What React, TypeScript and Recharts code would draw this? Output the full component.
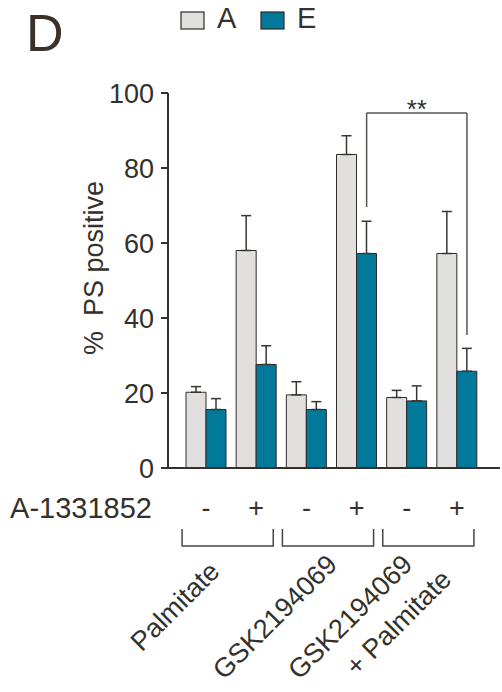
import React from "react";
import { BarChart, Bar, XAxis, YAxis, ErrorBar, Legend, ReferenceLine } from "recharts";

// one entry per bar pair, left to right
const GROUPS = ["Palmitate", "GSK2194069", "GSK2194069\n+ Palmitate"];
const A1331852 = ["-", "+", "-", "+", "-", "+"];
const SERIES_A = [20.2, 58.0, 19.5, 83.6, 18.8, 57.2];
const ERR_A = [1.5, 9.3, 3.5, 5.0, 1.9, 11.2];
const SERIES_E = [15.6, 27.6, 15.6, 57.2, 17.9, 25.8];
const ERR_E = [2.9, 5.0, 2.1, 8.6, 4.0, 6.1];
const Y_TICKS = [0, 20, 40, 60, 80, 100];
// significance bracket between E bars of pair 3 and pair 5
const SIG = { from: 3, to: 5, top: 94.7, leftEnd: 69.6, rightEnd: 35.5, label: "**" };

const data = A1331852.map((sign, i) => ({
  id: `c${i}`,
  group: GROUPS[Math.floor(i / 2)],
  sign,
  A: SERIES_A[i],
  errA: ERR_A[i],
  E: SERIES_E[i],
  errE: ERR_E[i],
}));

const W = 502;
const H = 692;
const PLOT_TOP = 93;
const AXIS_Y = 468;
const Y_AXIS_W = 168;
const RIGHT = 2;
const PAD_L = 13;
const PAD_R = 18;
const BAND = (W - RIGHT - Y_AXIS_W - PAD_L - PAD_R) / A1331852.length;
const E_SHIFT = (BAND - 10) / 4;

const FONT = "'Liberation Sans', Arial, Helvetica, sans-serif";
const INK = "#35302b";
const FILL_A = "#e1e0de";
const FILL_E = "#02799b";
const OUTLINE = "#2e2a26";

const GROUP_LABEL_DX = [-35, -18, -43];

function CategoryTick(props: any) {
  const { x, index } = props;
  const sign = A1331852[index];
  const signY = 508;
  const out: React.ReactNode[] = [
    <text key="s" x={x} y={signY} textAnchor="middle" dominantBaseline="central" fontSize={27} fill={INK} fontFamily={FONT}>
      {sign}
    </text>,
  ];
  if (index === 0) {
    out.push(
      <text key="row" x={Y_AXIS_W - 16} y={signY} textAnchor="end" dominantBaseline="central" fontSize={29} fill={INK} fontFamily={FONT}>
        A-1331852
      </text>
    );
  }
  if (index % 2 === 1) {
    const g = Math.floor(index / 2);
    const x0 = x - BAND - 24;
    const x1 = x + 17;
    out.push(
      <path key="b" d={`M${x0},529 V546 H${x1} V529`} fill="none" stroke="#4a4540" strokeWidth={1.5} />
    );
    const lines = GROUPS[g].split("\n");
    const ax = x + GROUP_LABEL_DX[g];
    const ay = g === 0 ? 573 : 566;
    lines.forEach((ln, k) => {
      const lx = ax + k * 39;
      const ly = ay + k * 15;
      out.push(
        <text key={`g${k}`} x={lx} y={ly} textAnchor="end" fontSize={27} fill={INK} fontFamily={FONT} transform={`rotate(-45 ${lx} ${ly})`}>
          {ln}
        </text>
      );
    });
  }
  return <g>{out}</g>;
}

function YTitle() {
  return (
    <text x={103} y={268} textAnchor="middle" fontSize={27} fill={INK} fontFamily={FONT} transform="rotate(-90 103 268)">
      {"%\u00a0\u00a0PS positive"}
    </text>
  );
}

function LegendContent(props: any) {
  const { payload = [] } = props;
  return (
    <svg width={W} height={40} style={{ display: "block" }}>
      {payload.map((p: any, i: number) => {
        const bx = 181 + i * 80;
        return (
          <g key={p.value}>
            <rect x={bx} y={12} width={23} height={17} fill={p.color} stroke={OUTLINE} strokeWidth={1.2} />
            <text x={bx + 36} y={28} fontSize={29} fill={INK} fontFamily={FONT}>
              {p.value}
            </text>
          </g>
        );
      })}
    </svg>
  );
}

const shifted = (withLabel: boolean) => (p: any) => (
  <g>
    <line x1={p.x1 + E_SHIFT} y1={p.y1} x2={p.x2 + E_SHIFT} y2={p.y2} stroke="#5a5550" strokeWidth={1.5} />
    {withLabel && (
      <text x={(p.x1 + p.x2) / 2 + E_SHIFT} y={p.y1 + 5} textAnchor="middle" fontSize={26} fill={INK} fontFamily={FONT}>
        {SIG.label}
      </text>
    )}
  </g>
);

export default function App() {
  const idFrom = data[SIG.from].id;
  const idTo = data[SIG.to].id;
  return (
    <div style={{ position: "relative", width: W, height: H, background: "#fff" }}>
      <style>{"body{margin:0}"}</style>
      <div style={{ position: "absolute", left: 26, top: 3, fontSize: 52, lineHeight: "60px", color: "#3b3129", fontFamily: FONT }}>D</div>
      <BarChart
        width={W}
        height={H}
        data={data}
        margin={{ top: PLOT_TOP, right: RIGHT, bottom: 0, left: 0 }}
        barCategoryGap={5}
        barGap={0}
        style={{ fontFamily: FONT }}
      >
        <XAxis
          dataKey="id"
          height={H - AXIS_Y}
          padding={{ left: PAD_L, right: PAD_R }}
          interval={0}
          tickLine={false}
          axisLine={{ stroke: INK, strokeWidth: 2 }}
          tick={<CategoryTick />}
        />
        <YAxis
          width={Y_AXIS_W}
          domain={[0, 100]}
          ticks={Y_TICKS}
          tickSize={7}
          tickMargin={7}
          axisLine={{ stroke: INK, strokeWidth: 2 }}
          tickLine={{ stroke: INK, strokeWidth: 2 }}
          tick={{ fontSize: 27, fill: INK, fontFamily: FONT }}
          label={<YTitle />}
        />
        <Legend verticalAlign="middle" align="center" wrapperStyle={{ top: 0, left: 0, width: W, height: 40 }} content={<LegendContent />} />
        <Bar dataKey="A" name="A" fill={FILL_A} stroke={OUTLINE} strokeWidth={1} isAnimationActive={false}>
          <ErrorBar dataKey={(d: any) => [0, d.errA]} width={5} stroke="#3a3530" strokeWidth={1.5} direction="y" isAnimationActive={false} />
        </Bar>
        <Bar dataKey="E" name="E" fill={FILL_E} stroke={OUTLINE} strokeWidth={1} isAnimationActive={false}>
          <ErrorBar dataKey={(d: any) => [0, d.errE]} width={5} stroke="#3a3530" strokeWidth={1.5} direction="y" isAnimationActive={false} />
        </Bar>
        <ReferenceLine segment={[{ x: idFrom, y: SIG.leftEnd }, { x: idFrom, y: SIG.top }]} shape={shifted(false)} />
        <ReferenceLine segment={[{ x: idFrom, y: SIG.top }, { x: idTo, y: SIG.top }]} shape={shifted(true)} />
        <ReferenceLine segment={[{ x: idTo, y: SIG.top }, { x: idTo, y: SIG.rightEnd }]} shape={shifted(false)} />
      </BarChart>
    </div>
  );
}
